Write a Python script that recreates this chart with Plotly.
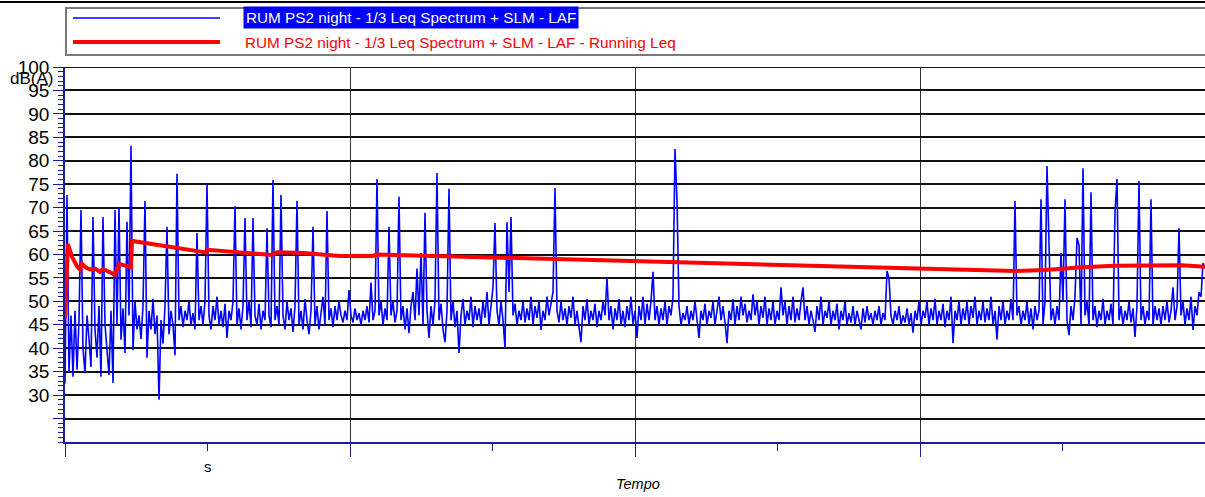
import plotly.graph_objects as go

# ---------------- data ----------------
SAMPLE_STEP_S = 2  # seconds between LAF samples

laf_a = [32.5, 72.7, 35, 47, 33.9, 48, 35.4, 46, 69.5, 40,
         34.7, 47, 42, 36, 68, 44, 38, 49, 33.9, 68,
         45, 40, 34.3, 48, 32.6, 69.5, 45, 70, 41.8, 48.5,
         39, 67, 47, 83.2, 39.6, 50, 44, 47, 42, 49,
         71.4, 38, 48, 44, 50.5, 43, 47, 29, 46, 41,
         49, 65.9, 43, 48, 45, 38.5, 77.2, 46, 49, 44.5,
         48, 46, 50, 45, 47.5, 44, 64.6, 46, 49, 45,
         50, 75, 47, 44, 49, 46, 51, 45, 48, 44.5,
         49.5, 42.2, 48, 46, 50, 70.3, 45, 48.5, 44, 49,
         67.8, 46, 50, 44.5, 67.8, 47, 45, 49.5, 44, 48]
laf_b = [46, 65.6, 47, 44.5, 75.9, 46, 49, 45, 72.7, 47,
         44, 50, 46, 48.5, 43.5, 49, 71.4, 45, 48, 44,
         50.5, 46, 43, 48, 65.9, 45, 49, 44, 47, 51,
         45, 69.3, 46, 48.5, 44.5, 49, 46, 50, 47, 45.5,
         48, 46, 52.4, 47, 45.5, 48.5, 46, 47.5, 45, 48,
         46, 49, 45.5, 54, 46, 48, 76.1, 47, 50, 45,
         48.5, 46, 65.9, 47, 50, 45.5, 48, 72.3, 46, 49,
         44, 48.5, 43.2, 49, 52, 46, 57, 47, 60.3, 45,
         68.9, 48, 42.2, 49, 45, 50, 77.4, 46, 49.5, 44,
         41.3, 48, 74, 46, 50, 44.5, 48, 39, 47, 50.5]
laf_c = [45, 48, 46, 51, 44.5, 49, 46, 48.5, 45, 50,
         46.5, 52, 45, 49, 53, 66.7, 48, 45, 50, 46,
         40, 66.9, 52, 68, 47, 49.5, 45, 48, 46, 50,
         45.5, 48.5, 46, 51, 45, 49, 46.5, 50, 43.9, 48,
         46, 51, 47, 49.5, 52, 74.2, 48, 45.5, 50, 46,
         48.5, 45, 49, 46.5, 51, 45, 48, 44.5, 41.3, 49,
         46, 50.5, 45, 48, 46, 49.5, 44.5, 48, 46, 50,
         47, 55, 46, 49, 44, 48.5, 46, 50.5, 45, 48,
         44.5, 49, 46, 51, 45, 48, 42.2, 49, 46, 51,
         45, 49.5, 46, 50, 56.3, 46, 49, 45, 48.5, 46]
laf_d = [50, 45, 49, 47, 51, 82.5, 71.6, 49, 45, 47.5,
         46, 49, 45, 48, 46, 50, 45.5, 42.2, 48, 46,
         49.5, 45, 48, 46.5, 50, 45, 48, 51, 46, 49,
         45.5, 41.1, 48, 46, 50.5, 45, 49, 46, 51, 47,
         49.5, 45.5, 48, 46, 51.5, 47, 50, 45, 49, 46.5,
         51, 45, 48.5, 46, 50, 45, 48, 46, 53, 47,
         50, 45, 49, 46, 51, 45.5, 48.5, 46, 50, 53,
         46, 49, 45, 48, 46, 43.5, 49, 46, 51, 45,
         48, 46.5, 50, 45, 48, 46, 49.5, 44, 48, 46,
         50, 45, 47.5, 45.5, 49, 45, 48, 46, 44, 48.5]
laf_e = [45.5, 49, 46, 47.5, 45, 48, 46, 49, 45, 47.5,
         46, 56.5, 55, 47, 45, 48, 46, 49, 45, 47,
         45.5, 48.5, 45, 47.5, 43.3, 48, 46, 50, 45, 48,
         46.5, 50, 45, 48.5, 46, 50.5, 45, 48, 46, 49.5,
         44.5, 48, 46, 51, 41.1, 48, 46, 50, 45, 48.5,
         46, 50, 45, 49, 46.5, 51, 45, 48, 46, 50,
         45.5, 48.5, 46, 51, 45, 48, 41.8, 49, 46, 50,
         45, 48, 46, 50.5, 46, 71.4, 47, 49, 45, 48,
         46, 50, 45, 48.5, 44, 49, 46, 48, 71.8, 45,
         50, 78.9, 62, 46, 48.5, 45, 49, 46, 60.3, 50]
laf_f = [71.8, 46, 42.8, 49, 46, 51, 63.5, 62, 45, 78.4,
         47, 50, 45, 73.3, 46, 49, 44.5, 48, 46, 50.5,
         45, 48, 46, 49.5, 45, 69, 76.1, 46, 49, 45,
         48, 46, 50, 45.5, 48.5, 42.4, 49, 75.7, 46, 49,
         45, 48, 46, 71.8, 45, 49, 46, 48.5, 45, 49,
         46, 50, 45.5, 48, 53, 46, 49, 65.6, 47, 50,
         45, 48.5, 46, 51, 43.9, 49, 47, 52, 51, 58.2,
         57]

laf_values = laf_a + laf_b + laf_c + laf_d + laf_e + laf_f
laf_time = [i * SAMPLE_STEP_S for i in range(len(laf_values))]

leq_time = [0, 3, 7, 12, 15, 17, 21, 25, 30, 35, 38, 45, 50, 54, 60, 66, 67,
            105, 142, 143, 175, 207, 212, 238, 275, 308, 312, 388, 428, 488,
            575, 612, 675, 748, 788, 865, 950, 980, 1017, 1050, 1083, 1117, 1140]
leq_values = [46.5, 62.2, 59.5, 57.5, 56.8, 58.0, 57.2, 56.8, 57.0, 56.3, 56.9,
              56.2, 55.7, 58.0, 57.6, 57.3, 62.9,
              61.6, 60.4, 61.0, 60.5, 59.9, 60.5, 60.3, 59.7, 59.7, 60.0, 59.6,
              59.3, 59.0, 58.4, 58.3, 58.0, 57.5, 57.3, 56.9, 56.5, 56.7, 57.3,
              57.6, 57.7, 57.7, 57.4]

y_tick_values = [25, 30, 35, 40, 45, 50, 55, 60, 65, 70, 75, 80, 85, 90, 95, 100]
y_tick_labels = ["", "30", "35", "40", "45", "50", "55", "60", "65", "70", "75",
                 "80", "85", "90", "95", "100"]
x_major_ticks = [0, 285, 570, 855, 1140]

series_names = ["RUM PS2 night - 1/3 Leq Spectrum + SLM - LAF",
                "RUM PS2 night - 1/3 Leq Spectrum + SLM - LAF - Running Leq"]

# ---------------- layout helpers ----------------
W, H = 1205, 497
PL, PR, PT, PB = 65, 1205, 67, 442
FONT = "Liberation Sans, Arial, sans-serif"
NAVY = "#1a1a9a"


def px(x):
    return (x - PL) / (PR - PL)


def py(y):
    return (PB - y) / (PB - PT)


fig = go.Figure()
fig.add_trace(go.Scatter(x=laf_time, y=laf_values, mode="lines",
                         line=dict(color="#0000ff", width=1.6),
                         name=series_names[0], showlegend=False))
fig.add_trace(go.Scatter(x=leq_time, y=leq_values, mode="lines",
                         line=dict(color="#ff0000", width=4),
                         name=series_names[1], showlegend=False))

shapes = [
    dict(type="line", xref="paper", yref="paper", x0=px(0), x1=px(1205),
         y0=py(2), y1=py(2), line=dict(color="black", width=2)),
    dict(type="rect", xref="paper", yref="paper", x0=px(66), x1=px(1215),
         y0=py(55), y1=py(8), line=dict(color="#7a7a7a", width=2)),
    dict(type="line", xref="paper", yref="paper", x0=px(73), x1=px(220),
         y0=py(18), y1=py(18), line=dict(color="#0000ff", width=1.5)),
    dict(type="line", xref="paper", yref="paper", x0=px(73), x1=px(220),
         y0=py(42), y1=py(42), line=dict(color="#ff0000", width=4)),
    dict(type="line", xref="paper", yref="y", x0=0, x1=1, y0=100, y1=100,
         line=dict(color="#111", width=2), layer="below"),
]

annotations = [
    dict(text=series_names[0], xref="paper", yref="paper", x=px(243), y=py(18),
         xanchor="left", yanchor="middle", showarrow=False, bgcolor="#0000ff",
         borderpad=2, font=dict(family=FONT, size=15.3, color="white")),
    dict(text=series_names[1], xref="paper", yref="paper", x=px(243), y=py(42),
         xanchor="left", yanchor="middle", showarrow=False,
         font=dict(family=FONT, size=15.3, color="#ff0000")),
    dict(text="dB(A)", xref="paper", yref="paper", x=px(8), y=py(78),
         xanchor="left", yanchor="middle", showarrow=False,
         font=dict(family=FONT, size=17, color="black")),
    dict(text="s", xref="x", yref="paper", x=142.5, y=py(466),
         xanchor="center", yanchor="middle", showarrow=False,
         font=dict(family=FONT, size=15, color="black")),
    dict(text="<i>Tempo</i>", xref="paper", yref="paper", x=px(638), y=py(484),
         xanchor="center", yanchor="middle", showarrow=False,
         font=dict(family=FONT, size=14.5, color="black")),
]

fig.update_layout(
    width=W, height=H,
    margin=dict(l=PL, r=W - PR, t=PT, b=H - PB, pad=0),
    paper_bgcolor="white", plot_bgcolor="white",
    font=dict(family=FONT, size=19, color="black"),
    shapes=shapes, annotations=annotations,
    xaxis=dict(range=[0, 1140], tickmode="array", tickvals=x_major_ticks,
               ticktext=["" for _ in x_major_ticks], ticks="outside",
               ticklen=13, tickcolor=NAVY, tickwidth=1,
               showgrid=True, gridcolor="#333", gridwidth=1,
               showline=True, linecolor=NAVY, linewidth=1.5, zeroline=False,
               minor=dict(tickmode="linear", tick0=0, dtick=142.5,
                          ticks="outside", ticklen=7, tickcolor=NAVY,
                          showgrid=False)),
    yaxis=dict(range=[20, 100], tickmode="array", tickvals=y_tick_values,
               ticktext=y_tick_labels, ticks="outside", ticklen=10,
               tickcolor=NAVY, tickwidth=1,
               showgrid=True, gridcolor="#111", gridwidth=2,
               showline=True, linecolor=NAVY, linewidth=1.5, zeroline=False,
               tickfont=dict(family=FONT, size=19, color="black"),
               minor=dict(tickmode="linear", tick0=20, dtick=1,
                          ticks="outside", ticklen=5, tickcolor=NAVY,
                          showgrid=False)),
)

fig.write_html("out.html")
